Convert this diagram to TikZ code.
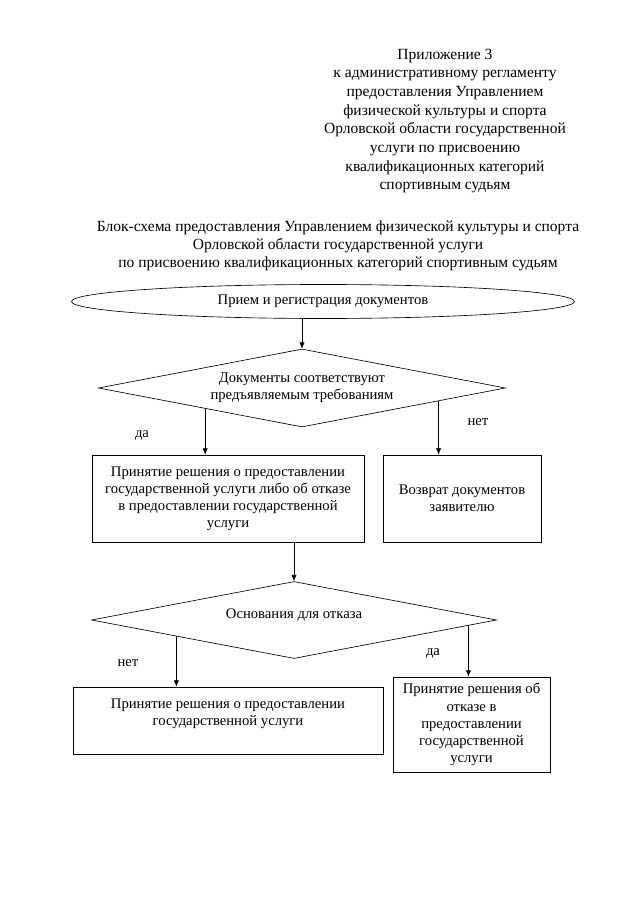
\documentclass[tikz,border=0pt]{standalone}
\usepackage{fontspec}
\setmainfont{Liberation Serif}
\usetikzlibrary{shapes.geometric, calc, arrows.meta}
\newcommand\pxu{0.0328cm}
\begin{document}
\begin{tikzpicture}[
    x=0.0328cm, y=-0.0328cm,
    every node/.style={font=\fontsize{13.7}{16}\selectfont},
    box/.style={rectangle, draw, inner sep=0pt, align=center},
    decision/.style={diamond, draw, inner sep=0pt, align=center, aspect=5.2},
    startend/.style={ellipse, draw, inner sep=0pt},
    answer/.style={inner sep=0pt},
    line width=0.6pt,
    >={Latex[length=6pt, width=5pt]}
]
\useasboundingbox (0,0) rectangle (640,905);

\node[align=center, font=\fontsize{14.5}{17.4}\selectfont] (annex) at (445,121) {Приложение 3\\
    к административному регламенту\\
    предоставления Управлением\\
    физической культуры и спорта\\
    Орловской области государственной\\
    услуги по присвоению\\
    квалификационных категорий\\
    спортивным судьям};

\node[align=center, font=\fontsize{14.5}{16.8}\selectfont] (title) at (338,246) {Блок-схема предоставления Управлением физической культуры и спорта\\
    Орловской области государственной услуги\\
    по присвоению квалификационных категорий спортивным судьям};

\node[startend, minimum width=503*\pxu, minimum height=34*\pxu] (reception) at (323,301.5) {Прием и регистрация документов};
\node[decision, minimum width=407*\pxu, minimum height=78*\pxu] (check) at (302,388) {Документы соответствуют\\предъявляемым требованиям};
\node[box, minimum width=272*\pxu, minimum height=87*\pxu] (decide) at (228,498.5) {Принятие решения о предоставлении\\
    государственной услуги либо об отказе\\
    в предоставлении государственной\\
    услуги};
\node[box, minimum width=158*\pxu, minimum height=87*\pxu] (return) at (462,498.5) {Возврат документов\\заявителю};
\node[decision, minimum width=405*\pxu, minimum height=77*\pxu, text depth=0.45cm] (grounds) at (294,620) {Основания для отказа};
\node[box, minimum width=310*\pxu, minimum height=67*\pxu] (grant) at (228,720.5) {Принятие решения о предоставлении\\
    государственной услуги\\~};
\node[box, minimum width=157*\pxu, minimum height=95*\pxu] (refuse) at (471.5,724.5) {Принятие решения об\\
    отказе в\\
    предоставлении\\
    государственной\\
    услуги};

\node[answer] (yes1) at (142,435) {да};
\node[answer] (no1) at (478,422) {нет};
\node[answer] (no2) at (128,663) {нет};
\node[answer] (yes2) at (433,653) {да};

\coordinate (checkl) at ($(check.south)!0.475!(check.west)$);
\coordinate (checkr) at ($(check.south)!0.67!(check.east)$);
\coordinate (groundsl) at ($(grounds.south)!0.58!(grounds.west)$);
\coordinate (groundsr) at ($(grounds.south)!0.86!(grounds.east)$);

\draw[->] (reception.south -| check.north) -- (check.north);
\draw[->] (checkl) -- (checkl |- decide.north);
\draw[->] (checkr) -- (checkr |- return.north);
\draw[->] (decide.south -| grounds.north) -- (grounds.north);
\draw[->] (groundsl) -- (groundsl |- grant.north);
\draw[->] (groundsr) -- (groundsr |- refuse.north);
\end{tikzpicture}
\end{document}
